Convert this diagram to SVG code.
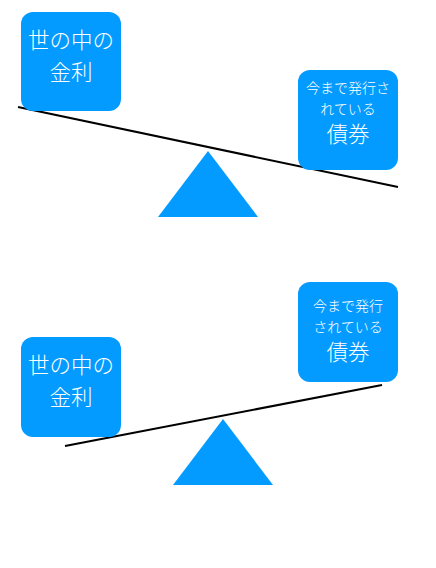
<svg xmlns="http://www.w3.org/2000/svg" width="436" height="568" viewBox="0 0 436 568">
<style>
.box{fill:#039BFF}
.fulcrum{fill:#039BFF}
.beam{stroke:#000;stroke-width:2;fill:none}
text{fill:#fff;font-family:"Noto Sans CJK JP","Noto Sans",sans-serif;text-anchor:middle;dominant-baseline:central;font-weight:300}
.big{font-size:21.5px}
.small{font-size:14px}
</style>
<rect width="436" height="568" fill="#fff"/>
<g id="connectors">
<line class="beam" x1="18" y1="107" x2="398" y2="187"/>
<line class="beam" x1="65" y1="446" x2="382" y2="385"/>
</g>
<g id="fulcrum1"><polygon class="fulcrum" points="208,151 158,217 258,217"/></g>
<g id="fulcrum2"><polygon class="fulcrum" points="223,419 173,485 273,485"/></g>
<g id="rate1">
<rect class="box" x="21" y="12" width="100" height="99" rx="12"/>
<text class="big" x="71" y="38.5">世の中の</text>
<text class="big" x="71" y="70.5">金利</text>
</g>
<g id="bond1">
<rect class="box" x="298" y="70" width="100" height="100" rx="12"/>
<text class="small" x="348" y="87">今まで発行さ</text>
<text class="small" x="348" y="108">れている</text>
<text class="big" x="348" y="132.5">債券</text>
</g>
<g id="rate2">
<rect class="box" x="21" y="337" width="100" height="100" rx="12"/>
<text class="big" x="71" y="363.5">世の中の</text>
<text class="big" x="71" y="395.5">金利</text>
</g>
<g id="bond2">
<rect class="box" x="298" y="282" width="100" height="100" rx="12"/>
<text class="small" x="348" y="305">今まで発行</text>
<text class="small" x="348" y="326">されている</text>
<text class="big" x="348" y="350.5">債券</text>
</g>
</svg>
